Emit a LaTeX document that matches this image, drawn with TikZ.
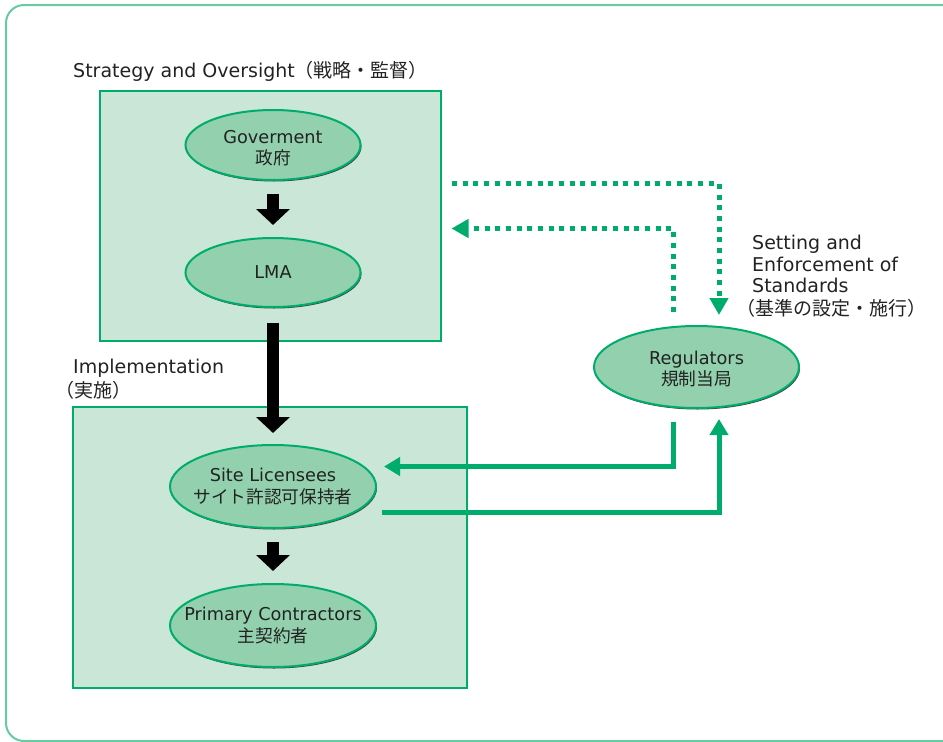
\documentclass[tikz,border=0pt]{standalone}
\usepackage{fontspec}
\setmainfont{DejaVu Sans}
\newfontfamily\jpfont{Noto Sans CJK JP}[Scale=1.0]
\usetikzlibrary{arrows.meta,shapes.geometric,shadows}
\definecolor{gline}{HTML}{00AC6C}
\definecolor{boxfill}{HTML}{C9E6D6}
\definecolor{ellfill}{HTML}{93D1AE}
\definecolor{framecol}{HTML}{66CCA0}
\definecolor{txt}{HTML}{222222}
\begin{document}
\begin{tikzpicture}[x=1pt,y=-1pt,
  grp/.style={draw=gline, line width=2pt, fill=boxfill},
  ell/.style={ellipse, draw=gline, line width=2pt, fill=ellfill, inner sep=0pt,
    drop shadow={shadow xshift=1pt, shadow yshift=-1.5pt, fill=black!75, opacity=1}},
  etxt/.style={align=center, text=txt, font=\fontsize{17.7}{21.5}\selectfont, inner sep=0pt},
  lab/.style={text=txt, font=\fontsize{19}{21.5}\selectfont, inner sep=0pt},
  blk/.style={black, line width=12pt, -{Triangle[length=16pt,width=33pt]}},
  dotarrow/.style={gline, line width=5pt, dash pattern=on 5pt off 5.7pt, line join=miter,
    -{Triangle[length=17pt,width=18pt]}},
  solarrow/.style={gline, line width=5pt, line join=miter,
    -{Triangle[length=16pt,width=18pt]}}
]
\useasboundingbox (0,0) rectangle (943,742);
\clip (0,0) rectangle (943,742);
\draw[framecol, line width=2pt, rounded corners=18pt] (6,5) rectangle (990,741);

% group boxes
\node[grp, minimum width=341pt, minimum height=250pt, inner sep=0pt] (top) at (270,216) {};
\node[grp, minimum width=394pt, minimum height=281pt, inner sep=0pt] (bot) at (270,547.5) {};

% labels
\node[lab, anchor=base west] (lso) at (73,77) {Strategy and Oversight{\jpfont （戦略・監督）}};
\node[lab, anchor=base west] (limp) at (73,373) {Implementation};
\node[lab, anchor=base west] (limpj) at (55,397) {\jpfont （実施）};
\node[lab, anchor=base west] (lset1) at (752,249) {Setting and};
\node[lab, anchor=base west] (lset2) at (752,271) {Enforcement of};
\node[lab, anchor=base west] (lset3) at (752,292.5) {Standards};
\node[lab, anchor=base west] (lsetj) at (736,315) {\jpfont （基準の設定・施行）};

% ellipses
\node[ell, minimum width=175pt, minimum height=70pt,
  label={[etxt, yshift=-3pt]center:Goverment\\{\jpfont 政府}}] (gov) at (273,145) {};
\node[ell, minimum width=175pt, minimum height=69pt,
  label={[etxt]center:LMA}] (lma) at (273,272.5) {};
\node[ell, minimum width=206pt, minimum height=83pt,
  label={[etxt]center:Site Licensees\\{\jpfont サイト許認可保持者}}] (site) at (273,486.5) {};
\node[ell, minimum width=206pt, minimum height=83pt,
  label={[etxt]center:Primary Contractors\\{\jpfont 主契約者}}] (prim) at (273,625.5) {};
\node[ell, minimum width=205pt, minimum height=82pt,
  label={[etxt, yshift=-2pt]center:Regulators\\{\jpfont 規制当局}}] (reg) at (696.5,367) {};

% black arrows
\draw[blk] ([yshift=-13pt]gov.south) -- ([yshift=12pt]lma.north);
\draw[blk] ([yshift=-15pt]lma.south) -- ([yshift=11pt]site.north);
\draw[blk] ([yshift=-13pt]site.south) -- ([yshift=12pt]prim.north);

% dotted arrows
\coordinate (d1s) at (452,183.3);
\coordinate (d1c) at (719,183.3);
\coordinate (d1e) at (719,315);
\draw[dotarrow] (d1s) -- (d1c) -- (d1e);
\coordinate (d2s) at (673.5,312);
\coordinate (d2c) at (673.5,228.5);
\coordinate (d2e) at (451.5,228.5);
\draw[dotarrow] (d2s) -- (d2c) -- (d2e);

% solid arrows
\coordinate (s1s) at (673.5,421.5);
\coordinate (s1c) at (673.5,466.5);
\coordinate (s1e) at (384,466.5);
\draw[solarrow] (s1s) -- (s1c) -- (s1e);
\coordinate (s2s) at (381.5,512.5);
\coordinate (s2c) at (719,512.5);
\coordinate (s2e) at (719,419);
\draw[solarrow] (s2s) -- (s2c) -- (s2e);
\end{tikzpicture}
\end{document}
